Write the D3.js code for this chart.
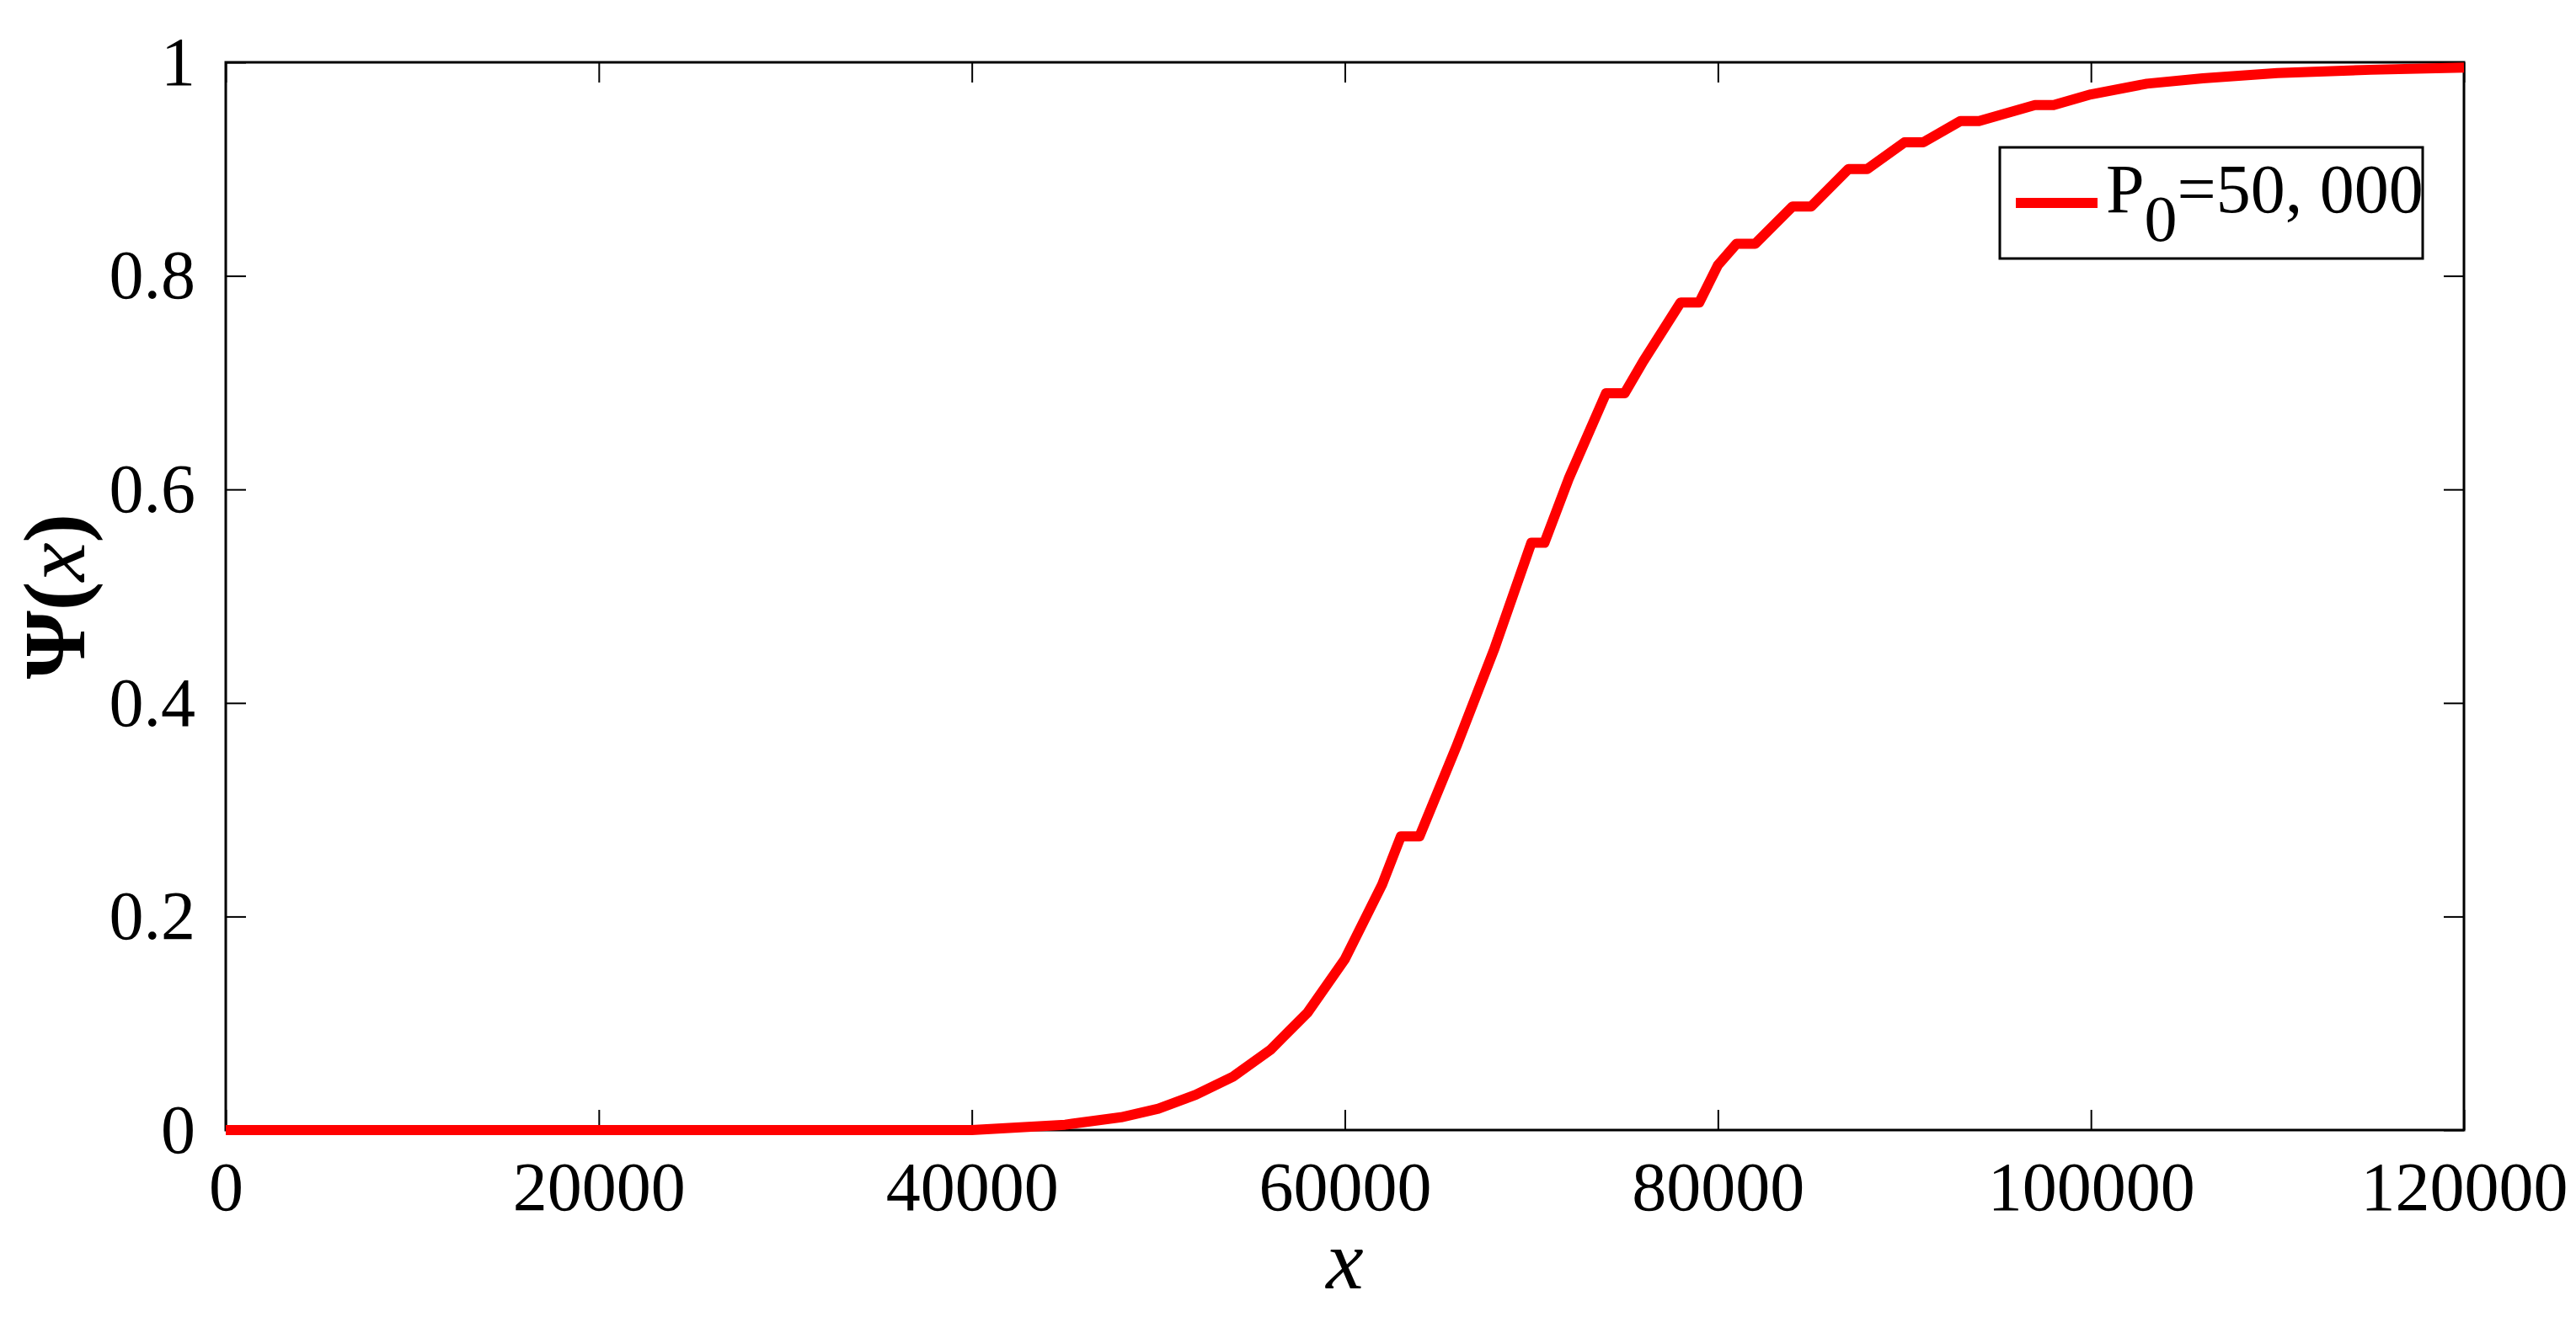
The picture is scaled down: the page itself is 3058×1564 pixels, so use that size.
<!DOCTYPE html>
<html><head><meta charset="utf-8">
<script src="https://cdn.jsdelivr.net/npm/d3@7"></script>
<style>body{margin:0;background:#fff}text{font-family:"Liberation Serif","Times New Roman",serif}</style>
</head><body><svg id="c" width="3058" height="1564"></svg>
<script>
const xs = [0,10000,20000,30000,40000,42000,45000,48000,50000,52000,54000,56000,58000,60000,62000,63000,64000,66000,68000,70000,70700,72000,74000,75000,76000,78000,79000,80000,81000,82000,84000,85000,87000,88000,90000,91000,93000,94000,97000,98000,100000,103000,106000,110000,115000,120000];
const ys = [0,0,0,0,0,0.002,0.005,0.012,0.02,0.033,0.05,0.075,0.11,0.16,0.23,0.275,0.275,0.36,0.45,0.55,0.55,0.61,0.69,0.69,0.72,0.775,0.775,0.81,0.83,0.83,0.865,0.865,0.9,0.9,0.925,0.925,0.945,0.945,0.96,0.96,0.97,0.98,0.985,0.99,0.993,0.995];
const xTicks = [0,20000,40000,60000,80000,100000,120000];
const yTicks = [0,0.2,0.4,0.6,0.8,1];
const legendLabel = ["P","0","=50, 000"];

const L=268,R=2925,T=74,B=1342;
const svg=d3.select("#c");
const x=d3.scaleLinear().domain([0,120000]).range([L,R]);
const y=d3.scaleLinear().domain([0,1]).range([B,T]);
const tl=24;
svg.append("g").attr("transform",`translate(0,${B})`).call(d3.axisBottom(x).tickValues(xTicks).tickSize(-tl).tickPadding(36).tickFormat(d3.format("d")))
 .call(g=>{g.select(".domain").remove();g.selectAll("text").attr("font-size",82).attr("font-family","Liberation Serif").attr("dy","0.72em");});
svg.append("g").attr("transform",`translate(0,${T})`).call(d3.axisTop(x).tickValues(xTicks).tickSize(-tl).tickFormat(""))
 .call(g=>g.select(".domain").remove());
svg.append("g").attr("transform",`translate(${L},0)`).call(d3.axisLeft(y).tickValues(yTicks).tickSize(-tl).tickPadding(36).tickFormat(d=>d3.format("")(+d.toFixed(1))))
 .call(g=>{g.select(".domain").remove();g.selectAll("text").attr("font-size",82).attr("font-family","Liberation Serif");});
svg.append("g").attr("transform",`translate(${R},0)`).call(d3.axisRight(y).tickValues(yTicks).tickSize(-tl).tickFormat(""))
 .call(g=>g.select(".domain").remove());
svg.selectAll(".tick line").attr("stroke","#000").attr("stroke-width",2);
svg.append("rect").attr("x",L).attr("y",T).attr("width",R-L).attr("height",B-T).attr("fill","none").attr("stroke","#000").attr("stroke-width",3);

const data=xs.map((v,i)=>[v,ys[i]]);
svg.append("path").datum(data).attr("fill","none").attr("stroke","#ff0000").attr("stroke-width",12).attr("stroke-linejoin","round")
 .attr("d",d3.line().x(d=>x(d[0])).y(d=>y(d[1])));

// legend
const lg=svg.append("g");
lg.append("rect").attr("x",2374).attr("y",175).attr("width",502).attr("height",132).attr("fill","#fff").attr("stroke","#000").attr("stroke-width",3);
lg.append("line").attr("x1",2393).attr("x2",2490).attr("y1",241).attr("y2",241).attr("stroke","#ff0000").attr("stroke-width",12);
const t=lg.append("text").attr("x",2500).attr("y",252).attr("font-size",82);
t.append("tspan").text(legendLabel[0]);
t.append("tspan").attr("dy",34).attr("font-size",78).text(legendLabel[1]);
t.append("tspan").attr("dy",-34).text(legendLabel[2]);

// axis labels
svg.append("text").attr("x",(L+R)/2).attr("y",1530).attr("text-anchor","middle").attr("font-size",100).attr("font-style","italic").text("x");
const yl=svg.append("text").attr("transform","translate(100,708) rotate(-90)").attr("text-anchor","middle").attr("font-size",104);
yl.append("tspan").attr("font-weight","bold").text("Ψ(");
yl.append("tspan").attr("font-style","italic").text("x");
yl.append("tspan").attr("font-weight","bold").text(")");
</script></body></html>
